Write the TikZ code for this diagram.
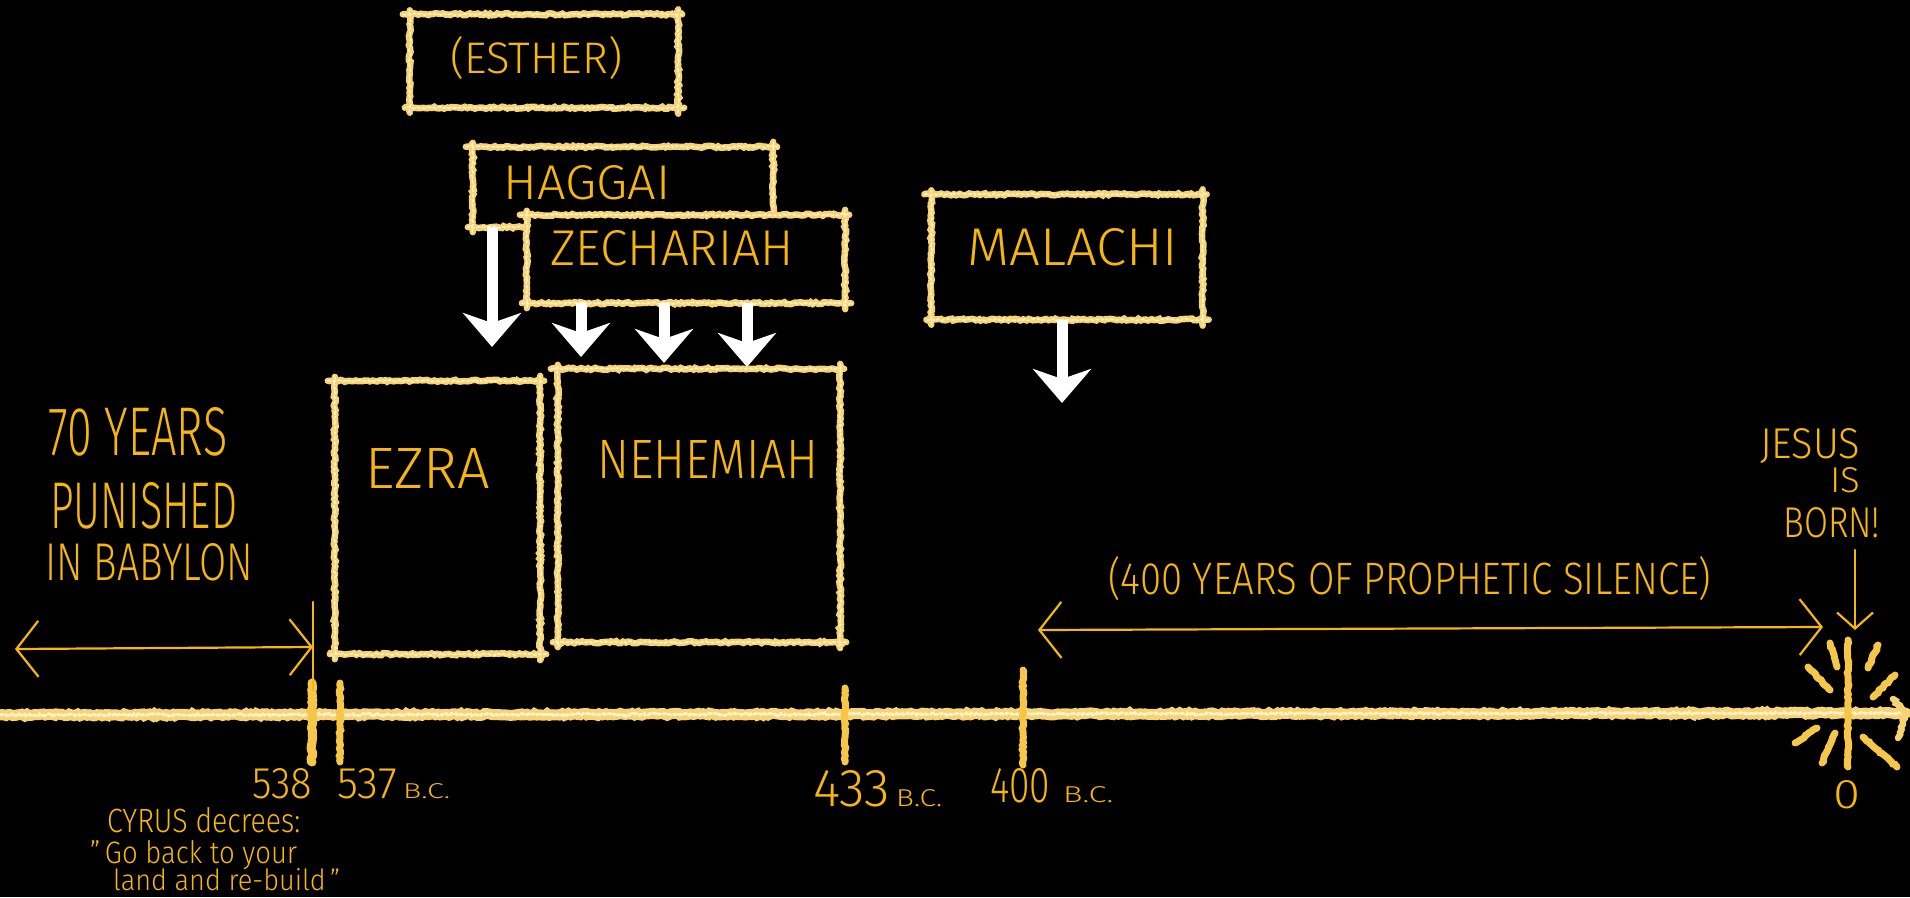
\documentclass[tikz,border=0pt]{standalone}
\usepackage{fontspec}
\usepackage{graphicx}
\IfFontExistsTF{Fira Sans Light}{\setmainfont{Fira Sans Light}}{\setmainfont{Fira Sans}}
\usetikzlibrary{calc,decorations.pathmorphing,arrows.meta}
\definecolor{ink}{RGB}{247,182,10}
\definecolor{chalk}{RGB}{246,212,118}
\definecolor{chalkhi}{RGB}{255,242,200}
\definecolor{tickc}{RGB}{246,198,72}
\newcommand\hw[3]{\resizebox{#1pt}{#2pt}{#3}}
\newcommand\chalkbox[1]{%
  \draw[chalkline] ($(#1.north west)+(-7,0)$) -- ($(#1.north east)+(4,0)$);
  \draw[chalkline] ($(#1.north east)+(0,-5)$) -- ($(#1.south east)+(0,6)$);
  \draw[chalkline] ($(#1.south east)+(6,0)$) -- ($(#1.south west)+(-5,0)$);
  \draw[chalkline] ($(#1.south west)+(0,5)$) -- ($(#1.north west)+(0,-4)$);
  \draw[chalkhl] ($(#1.north west)+(-7,0)$) -- ($(#1.north east)+(4,0)$);
  \draw[chalkhl] ($(#1.north east)+(0,-5)$) -- ($(#1.south east)+(0,6)$);
  \draw[chalkhl] ($(#1.south east)+(6,0)$) -- ($(#1.south west)+(-5,0)$);
  \draw[chalkhl] ($(#1.south west)+(0,5)$) -- ($(#1.north west)+(0,-4)$);
}
\tikzset{
  chalkline/.style={draw=chalk, line width=6.5pt, line cap=round, decorate,
    decoration={random steps, segment length=2.5pt, amplitude=1pt}},
  chalkhl/.style={draw=chalkhi, line width=1.6pt, line cap=round, dash pattern=on 3pt off 2.5pt,
    decorate, decoration={random steps, segment length=2pt, amplitude=1.1pt}},
  tickline/.style={draw=tickc, line width=7pt, line cap=round, decorate,
    decoration={random steps, segment length=2.5pt, amplitude=0.8pt}},
  inkline/.style={draw=ink, line width=2.2pt, line cap=round, line join=round},
  barbs/.style={{Straight Barb[length=22pt,width=56pt]}-{Straight Barb[length=22pt,width=56pt]}},
  warrow/.style={draw=white, line width=11pt, -{Stealth[length=34pt,width=58pt,inset=10pt]}},
  boxn/.style={inner sep=0pt, fill=black, draw=none},
  hand/.style={text=ink, inner sep=0pt, anchor=base west}
}
\begin{document}
\begin{tikzpicture}[x=1pt,y=-1pt]
\pgfmathsetseed{7}
\fill[black] (0,0) rectangle (1910,897);
\useasboundingbox (0,0) rectangle (1910,897);

% ---- Esther
\node[boxn, minimum width=268pt, minimum height=93pt] (esther) at (544,61) {};
\chalkbox{esther}
\node[hand] (esthert) at (450,73) {\hw{172}{37}{(ESTHER)}};

% ---- Haggai
\node[boxn, minimum width=300pt, minimum height=80pt] (hag) at (623,187) {};
\chalkbox{hag}
\node[hand] (hagt) at (503,199) {\hw{167}{34}{HAGGAI}};

% ---- Zechariah
\node[boxn, minimum width=318pt, minimum height=88pt] (zech) at (686,259) {};
\chalkbox{zech}
\node[hand] (zecht) at (550,265) {\hw{243}{35}{ZECHARIAH}};

% ---- Malachi
\node[boxn, minimum width=271pt, minimum height=125pt] (mal) at (1067,257) {};
\chalkbox{mal}
\node[hand] (malt) at (967,265) {\hw{211}{37}{MALACHI}};

% ---- Ezra
\node[boxn, minimum width=205pt, minimum height=273pt] (ezra) at (437.5,517.5) {};
\chalkbox{ezra}
\node[hand] (ezrat) at (365,488) {\hw{125}{40}{EZRA}};

% ---- Nehemiah
\node[boxn, minimum width=282pt, minimum height=273pt] (neh) at (699,505.5) {};
\chalkbox{neh}
\node[hand] (neht) at (597,478) {\hw{221}{38}{NEHEMIAH}};

% ---- white arrows
\coordinate (w1) at (492,347);
\coordinate (w2) at (581,357);
\coordinate (w3) at (664,363);
\coordinate (w4) at (747,367);
\coordinate (w5) at (1062,403);
\draw[warrow] (hag.south -| w1) -- (w1);
\draw[warrow] (zech.south -| w2) -- (w2);
\draw[warrow] (zech.south -| w3) -- (w3);
\draw[warrow] (zech.south -| w4) -- (w4);
\draw[warrow] (mal.south -| w5) -- (w5);

% ---- axis
\coordinate (axL) at (0,715);
\coordinate (axR) at (1906,713);
\draw[chalkline, line width=11pt] (axL) -- (axR);
\draw[chalkhl, line width=3pt] (axL) -- (axR);
\draw[chalkline] (1893,699) -- (axR) -- (1898,738);

% ticks
\draw[tickline, line width=9pt] (312,683) -- (312,762);
\draw[tickline] (340,683) -- (340,762);
\draw[tickline] (845,688) -- (845,762);
\draw[tickline] (1023,670) -- (1023,765);
\draw[tickline] (1848,640) -- (1848,767);

% burst rays
\foreach \a/\b/\c/\d in {1830/643/1837/667, 1878/645/1868/668, 1808/667/1830/690,
  1895/675/1873/697, 1795/743/1817/728, 1822/763/1835/733, 1863/737/1897/767}
  \draw[tickline] (\a,\b) -- (\c,\d);

% ---- Babylon
\node[hand] (y1) at (48,455) {\hw{179}{48}{70 YEARS}};
\node[hand] (y2) at (50,528) {\hw{187}{46}{PUNISHED}};
\node[hand] (y3) at (45,580) {\hw{208}{37}{IN BABYLON}};
\coordinate (bL) at (15,649);
\coordinate (bR) at (313,647);
\draw[inkline, barbs] (bL) -- (bR);
\coordinate (vT) at (313,602);
\coordinate (vB) at (313,690);
\draw[inkline] (vT) -- (vB);

% ---- silence
\node[hand] (silt) at (1108,594) {\hw{603}{38}{(400 YEARS OF PROPHETIC SILENCE)}};
\coordinate (sL) at (1038,630);
\coordinate (sR) at (1823,627);
\draw[inkline, barbs] (sL) -- (sR);

% ---- Jesus
\node[hand] (j1) at (1760,458) {\hw{100}{30}{JESUS}};
\node[hand] (j2) at (1830,492) {\hw{30}{25}{IS}};
\node[hand] (j3) at (1783,537) {\hw{97}{30}{BORN!}};
\coordinate (jA) at (1855,550);
\coordinate (jB) at (1855,630);
\draw[inkline, -{Straight Barb[length=16pt,width=36pt]}] (jA) -- (jB);

% ---- dates
\node[hand] (n538) at (252,798) {\hw{60}{30}{538}};
\node[hand] (n537) at (337,798) {\hw{60}{30}{537}\hspace{6pt}\hw{47}{15}{B.C.}};
\node[hand] (n433) at (813,806) {\hw{77}{36}{433}\hspace{6pt}\hw{46}{17}{B.C.}};
\node[hand] (n400) at (990,802) {\hw{60}{34}{400}\hspace{13pt}\hw{50}{16}{B.C.}};
\node[hand] (n0) at (1833,808) {\hw{27}{28}{0}};

% ---- Cyrus
\node[hand] (cy1) at (107,832) {\hw{193}{25}{CYRUS decrees:}};
\node[hand] (cy2) at (90,863) {\hw{207}{23}{"\,Go back to your}};
\node[hand] (cy3) at (113,890) {\hw{227}{22}{land and re-build\,"}};
\end{tikzpicture}
\end{document}
